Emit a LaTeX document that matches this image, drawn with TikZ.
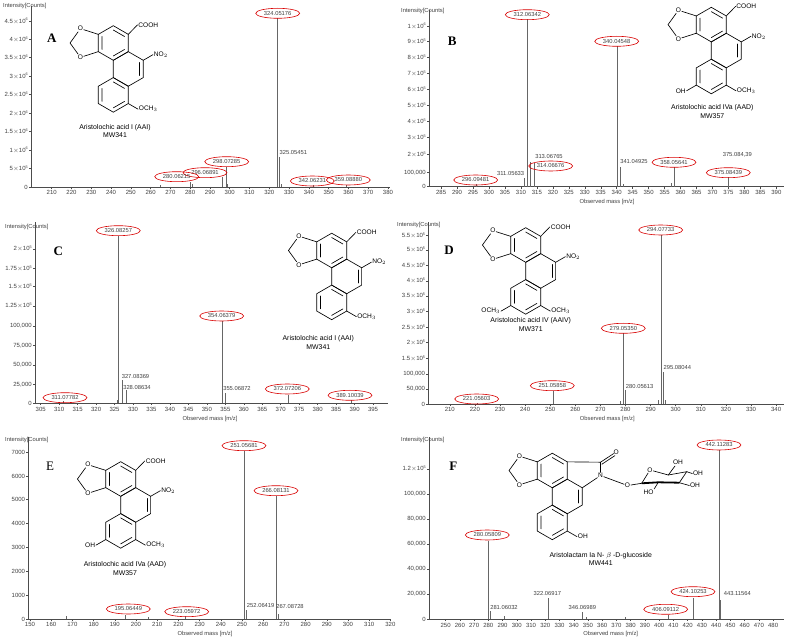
\documentclass[tikz,border=0pt]{standalone}
\usepackage{fontspec}
\setmainfont{Liberation Sans}
\newfontfamily\serifL{Liberation Serif}
\usetikzlibrary{shapes.geometric}
\tikzset{
 ax/.style={draw=black!70,line width=0.5pt},
 pkl/.style={draw=black!60,line width=0.6pt},
 tlab/.style={font=\fontsize{6}{6}\selectfont,text=black!75,inner sep=0pt},
 ylab/.style={anchor=east,font=\fontsize{6}{6}\selectfont,text=black!75,inner sep=1pt},
 elab/.style={ellipse,draw=red!85!black,line width=0.6pt,minimum width=44pt,minimum height=10pt,inner sep=0pt,font=\fontsize{5.8}{6}\selectfont,text=black!75},
 plab/.style={font=\fontsize{5.8}{6}\selectfont,text=black!75,inner sep=0pt},
 bond/.style={line width=0.65pt,line cap=round},
 atom/.style={font=\fontsize{6.6}{7}\selectfont,inner sep=0.6pt},
 cname/.style={font=\fontsize{6.9}{7}\selectfont,inner sep=0pt},
 plet/.style={font=\serifL\bfseries\fontsize{13}{13}\selectfont,inner sep=0pt},
}
\newcommand\ten[1]{\kern0.2pt$\times$10\raisebox{0.7ex}{\fontsize{3.8}{4}\selectfont#1}}
\newcommand\drawaxes[3]{%
 \draw[ax] (\AX,\BY)--(\XE,\BY);
 \draw[ax] (\AX,\BY)--(\AX,\YT);
 \pgfmathtruncatemacro\mtwo{#1+#3}%
 \foreach \m in {#1,\mtwo,...,#2}{%
  \pgfmathsetmacro\xx{\Xo+(\m-\Mo)*\Sc}%
  \draw[ax] (\xx,\BY)--++(0,2) node[tlab,below=1.5pt] {\m};}}
\newcommand\pk[2]{\pgfmathsetmacro\xx{\Xo+(#1-\Mo)*\Sc}\draw[pkl] (\xx,\BY)--(\xx,#2);}
\newcommand\yl[2]{\draw[ax] (\AX,#1)--++(-2,0) node[ylab]{#2};}
\newcommand\core{%
 \foreach \cx/\cy in {0/0,0.866/-1.5,0/-3}{%
  \draw[bond,shift={(\cx,\cy)}] (30:1)--(90:1)--(150:1)--(210:1)--(270:1)--(330:1)--cycle;}
 \draw[bond] (30:0.75)--(90:0.75) (150:0.75)--(210:0.75) (270:0.75)--(330:0.75);
 \draw[bond,shift={(0.866,-1.5)}] (330:0.75)--(30:0.75);
 \draw[bond,shift={(0,-3)}] (150:0.75)--(210:0.75) (270:0.75)--(330:0.75) (30:0.75)--(90:0.75);
 \node[atom] (ot) at (-1.9,0.83) {O};
 \node[atom] (ob) at (-1.9,-0.83) {O};
 \coordinate (ch) at (-2.5,0);
 \draw[bond] (150:1)--(ot)--(ch)--(ob)--(210:1);}
\newcommand\phen[3]{%
 \begin{scope}[shift={(#1,#2)},x=17.3pt,y=17.3pt]
 \core
 \draw[bond] (30:1)--(1.4,1.05) node[atom,anchor=west] {COOH};
 \draw[bond] (1.732,-1)--++(30:0.65) node[atom,anchor=west] {NO$_2$};
 \draw[bond] (0.866,-3.5)--++(-30:0.65) node[atom,anchor=west] {OCH$_3$};
 \def\tmp{#3}\ifx\tmp\empty\else
 \draw[bond] (-0.866,-3.5)--++(210:0.65) node[atom,anchor=east] {#3};\fi
 \end{scope}}
\begin{document}
\begin{tikzpicture}[x=1pt,y=-1pt]
\useasboundingbox (0,0) rectangle (788,644);
\fill[white] (0,0) rectangle (788,644);
%================ A
\def\AX{31}\def\BY{187}\def\XE{390}\def\YT{6}\def\Mo{210}\def\Xo{51.7}\def\Sc{1.978}
\drawaxes{210}{380}{10}
\yl{21}{4.5\ten{6}}\yl{39.3}{4\ten{6}}\yl{57.7}{3.5\ten{6}}\yl{76}{3\ten{6}}\yl{94.3}{2.5\ten{6}}
\yl{113.3}{2\ten{6}}\yl{131.7}{1.5\ten{6}}\yl{150}{1\ten{6}}\yl{168.3}{5\ten{5}}\yl{187}{0}
\node[plab,anchor=west] (iA) at (3,6) {Intensity[Counts]};
\pk{324.05}{18}\pk{325.05}{157}\pk{298.07}{167}\pk{296.07}{177}\pk{280.06}{182}\pk{342.06}{185}\pk{359.09}{185}\pk{265}{185}\pk{281}{184}\pk{299}{184}\pk{326}{184}
\node[elab] (a1) at (277.7,13.3) {324.05176};
\node[elab] (a2) at (226.7,161.7) {298.07285};
\node[elab] (a3) at (205,172.7) {296.06891};
\node[elab] (a4) at (176.7,176.7) {280.06215};
\node[elab] (a5) at (312.3,181) {342.06231};
\node[elab] (a6) at (348.3,180) {359.08880};
\node[plab] (a7) at (293.3,152.7) {325.05451};
\node[plet] (LA) at (51.7,38.3) {A};
\phen{113.3}{43}{}
\node[cname] (nA) at (115,127.3) {Aristolochic acid I (AAI)};
\node[cname] (mA) at (115,135) {MW341};
%================ B
\def\AX{429}\def\BY{186.7}\def\XE{784}\def\YT{10}\def\Mo{285}\def\Xo{441.1}\def\Sc{3.193}
\drawaxes{285}{390}{5}
\yl{26}{1\ten{6}}\yl{41.3}{9\ten{5}}\yl{57.3}{8\ten{5}}\yl{73.3}{7\ten{5}}\yl{89.3}{6\ten{5}}\yl{105.3}{5\ten{5}}
\yl{121.3}{4\ten{5}}\yl{137.3}{3\ten{5}}\yl{154.3}{2\ten{5}}\yl{172.3}{100,000}\yl{186.7}{0}
\node[plab,anchor=west] (iB) at (401,11) {Intensity[Counts]};
\node[plab] (tB) at (607,202) {Observed mass [m/z]};
\pk{312.06}{19}\pk{340.05}{46}\pk{313.07}{161.7}\pk{314.07}{163}\pk{311.06}{178}\pk{341.05}{166.7}\pk{358.06}{167}\pk{375.08}{177}\pk{296.09}{184}\pk{357}{183}\pk{342}{184}
\node[elab] (b1) at (527.3,14.7) {312.06342};
\node[elab] (b2) at (616.7,41.3) {340.04548};
\node[elab] (b3) at (550.7,166) {314.06676};
\node[elab] (b4) at (674,162.3) {358.05641};
\node[elab] (b5) at (728.3,172.7) {375.08439};
\node[elab] (b6) at (475.7,180) {296.09481};
\node[plab] (b7) at (549,156.7) {313.06765};
\node[plab] (b8) at (510.7,174) {311.05633};
\node[plab] (b9) at (634,161.7) {341.04925};
\node[plab] (b10) at (737.3,155) {375.084,39};
\node[plet] (LB) at (452.3,41.7) {B};
\phen{711.3}{24.6}{OH}
\node[cname] (nB) at (712.3,107.3) {Aristolochic acid IVa (AAD)};
\node[cname] (mB) at (712.3,116) {MW357};
%================ C
\def\AX{35}\def\BY{403.3}\def\XE{388}\def\YT{222}\def\Mo{305}\def\Xo{40.7}\def\Sc{3.693}
\drawaxes{305}{395}{5}
\yl{249}{2\ten{5}}\yl{268.3}{1.75\ten{5}}\yl{286.7}{1.5\ten{5}}\yl{306}{1.25\ten{5}}\yl{326}{100,000}
\yl{345.7}{75,000}\yl{365}{50,000}\yl{384.3}{25,000}\yl{403.3}{0}
\node[plab,anchor=west] (iC) at (5,227) {Intensity[Counts]};
\node[plab] (tC) at (210,419) {Observed mass [m/z]};
\pk{326.08}{236}\pk{354.06}{321}\pk{327.08}{380}\pk{328.09}{390}\pk{355.07}{393}\pk{372.07}{395}\pk{389.10}{400}\pk{311.08}{401}\pk{325.8}{400}
\node[elab] (c1) at (118.3,230.7) {326.08257};
\node[elab] (c2) at (221.7,316) {354.06379};
\node[elab] (c3) at (287.3,389) {372.07206};
\node[elab] (c4) at (350,395.3) {389.10039};
\node[elab] (c5) at (65,397.7) {311.07782};
\node[plab] (c6) at (135.5,376.7) {327.08369};
\node[plab] (c7) at (137,387.3) {328.08634};
\node[plab] (c8) at (237,388.3) {355.06872};
\node[plet] (LC) at (58.3,251.7) {C};
\phen{331.7}{250.5}{}
\node[cname] (nC) at (318.3,339) {Aristolochic acid I (AAI)};
\node[cname] (mC) at (318.3,346.7) {MW341};
%================ D
\def\AX{428.3}\def\BY{404}\def\XE{784}\def\YT{222}\def\Mo{210}\def\Xo{449.8}\def\Sc{2.51}
\drawaxes{210}{340}{10}
\yl{235.7}{5.5\ten{5}}\yl{250}{5\ten{5}}\yl{265.7}{4.5\ten{5}}\yl{281}{4\ten{5}}\yl{296}{3.5\ten{5}}\yl{311.7}{3\ten{5}}
\yl{327.3}{2.5\ten{5}}\yl{342.7}{2\ten{5}}\yl{358.3}{1.5\ten{5}}\yl{374}{100,000}\yl{389}{50,000}\yl{404}{0}
\node[plab,anchor=west] (iD) at (397,225) {Intensity[Counts]};
\node[plab] (tD) at (607.3,419) {Observed mass [m/z]};
\pk{294.08}{235}\pk{279.05}{333}\pk{295.08}{372}\pk{280.06}{390}\pk{251.06}{391}\pk{221.06}{403}\pk{293}{400}\pk{296}{400}\pk{278}{401}
\node[elab] (d1) at (660.7,230) {294.07733};
\node[elab] (d2) at (623.3,328.3) {279.05350};
\node[elab] (d3) at (552.3,385.7) {251.05858};
\node[elab] (d4) at (476.7,399) {221.05603};
\node[plab] (d5) at (677.3,367.7) {295.08044};
\node[plab] (d6) at (639.7,386.7) {280.05613};
\node[plet] (LD) at (449,250) {D};
\phen{525.7}{245}{OCH$_3$}
\node[cname] (nD) at (530.7,321) {Aristolochic acid IV (AAIV)};
\node[cname] (mD) at (530.7,329) {MW371};
%================ E
\def\AX{28.3}\def\BY{619}\def\XE{390}\def\YT{437}\def\Mo{150}\def\Xo{30}\def\Sc{2.12}
\drawaxes{150}{320}{10}
\yl{452.3}{7000}\yl{476}{6000}\yl{499.7}{5000}\yl{523.3}{4000}\yl{547}{3000}\yl{571}{2000}\yl{595}{1000}\yl{619}{0}
\node[plab,anchor=west] (iE) at (5,440) {Intensity[Counts]};
\node[plab] (tE) at (205,634) {Observed mass [m/z]};
\pk{251.06}{451}\pk{266.08}{496}\pk{252.06}{610}\pk{267.09}{614}\pk{195.06}{615}\pk{223.06}{616}\pk{167}{616}\pk{206}{617}
\node[elab] (e1) at (244,445.7) {251.05681};
\node[elab] (e2) at (276,490.7) {266.08131};
\node[elab] (e3) at (128.3,609) {195.06449};
\node[elab] (e4) at (186.7,611.7) {223.05972};
\node[plab] (e5) at (260.7,606) {252.06419};
\node[plab] (e6) at (290,606.7) {267.08728};
\node[font=\serifL\fontsize{13}{13}\selectfont,inner sep=0pt] (LE) at (50,466.7) {E};
\phen{120.7}{479}{OH}
\node[cname] (nE) at (125,565) {Aristolochic acid IVa (AAD)};
\node[cname] (mE) at (125,572.7) {MW357};
%================ F
\def\AX{429}\def\BY{619.3}\def\XE{784}\def\YT{437}\def\Mo{250}\def\Xo{445.6}\def\Sc{1.424}
\drawaxes{250}{480}{10}
\yl{469}{1.2\ten{5}}\yl{494}{100,000}\yl{519}{80,000}\yl{544}{60,000}\yl{569}{40,000}\yl{594}{20,000}\yl{619.3}{0}
\node[plab,anchor=west] (iF) at (401,440) {Intensity[Counts]};
\node[plab] (tF) at (610.7,634) {Observed mass [m/z]};
\pk{442.11}{450}\pk{280.06}{541}\pk{322.07}{598}\pk{281.06}{611}\pk{346.07}{612}\pk{424.10}{598}\pk{406.09}{615}\pk{443.12}{600}\pk{291}{616}\pk{376}{617}\pk{349}{617}
\node[elab] (f1) at (719,445) {442.11283};
\node[elab] (f2) at (487.3,535) {280.05809};
\node[elab] (f3) at (693,591.7) {424.10253};
\node[elab] (f4) at (665.7,609.3) {406.09112};
\node[plab] (f5) at (547.3,593.3) {322.06917};
\node[plab] (f6) at (504,607.3) {281.06032};
\node[plab] (f7) at (582.3,607.3) {346.06989};
\node[plab] (f8) at (737.3,594) {443.11564};
\node[plet] (LF) at (453.3,466.7) {F};
\begin{scope}[shift={(552.3,470.5)},x=17.3pt,y=17.3pt]
 \core
 \draw[bond] (0.866,-3.5)--++(-30:0.65) node[atom,anchor=west] {OH};
 \node[atom] (nN) at (2.79,-0.29) {N};
 \coordinate (cc) at (2.79,0.48);
 \draw[bond] (30:1)--(cc)--(nN)--(1.732,-1);
 \draw[bond] (cc)--(3.55,0.98) (2.86,0.36)--(3.62,0.86);
 \node[atom] (oc) at (3.7,1.05) {O};
 \node[atom] (ol) at (4.35,-0.87) {O};
 \draw[bond] (nN)--(ol);
\end{scope}
\coordinate (g1) at (641.7,483.3);
\node[atom] (g5) at (650,470) {O};
\coordinate (g6) at (668.3,475);
\coordinate (g4) at (686.7,471.7);
\coordinate (g3) at (679.3,482.7);
\coordinate (g2) at (658.3,482.3);
\draw[bond] (ol)--(g1)--(g5)--(g6)--(g4)--(g3);
\draw[line width=1.8pt] (g1)--(g2)--(g3);
\node[atom] (h1) at (678,462) {OH};
\node[atom] (h2) at (698,473.5) {OH};
\node[atom] (h3) at (695,485.5) {OH};
\node[atom] (h4) at (648.5,492) {HO};
\draw[bond] (g6)--(675,466) (g4)--(h2.west) (g3)--(h3.west) (g2)--(h4.north east);
\node[cname] (nF) at (600.7,556) {Aristolactam Ia N- $\beta$ -D-glucoside};
\node[cname] (mF) at (600.7,563.3) {MW441};
\end{tikzpicture}
\end{document}
